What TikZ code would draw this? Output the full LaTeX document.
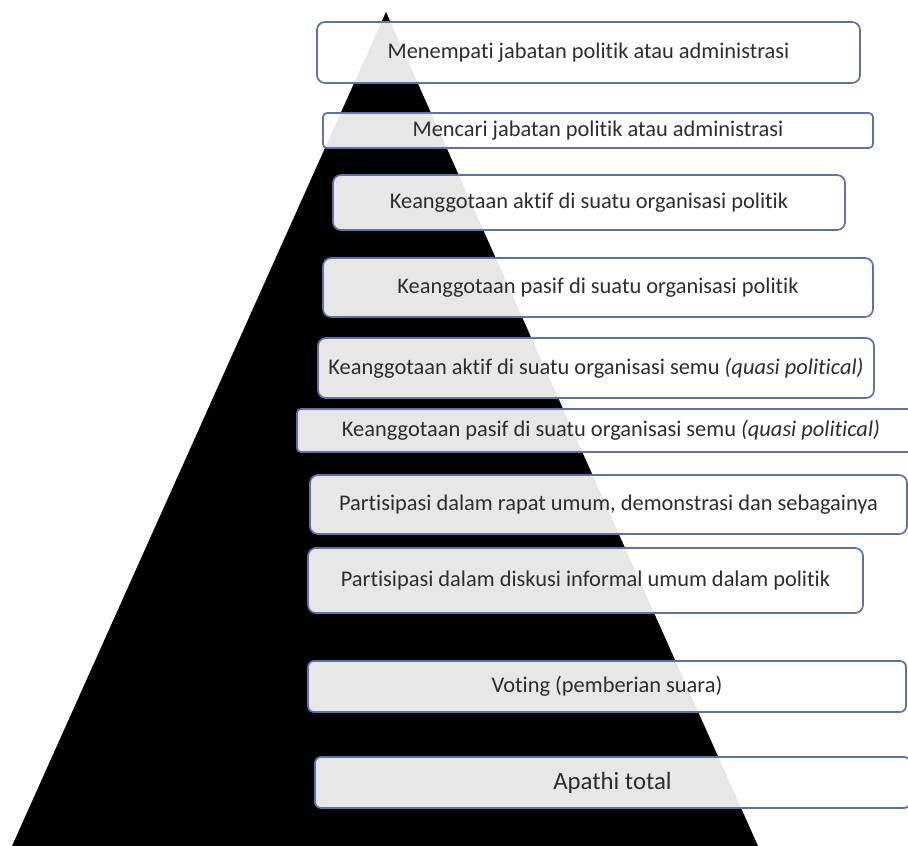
\documentclass[tikz,border=0pt]{standalone}
\usepackage{fontspec}
\setmainfont{Carlito}[Ligatures=NoCommon]
\definecolor{bordercol}{RGB}{98,112,170}
\definecolor{txtcol}{RGB}{45,45,45}
\begin{document}
\begin{tikzpicture}[x=1pt,y=-1pt,
  lvl/.style={draw=bordercol, line width=1.7pt, fill=white, fill opacity=0.905,
    text opacity=1, rounded corners=8pt, inner sep=0pt, text=txtcol,
    font=\fontsize{22.4}{26}\selectfont},
  lvlsmall/.style={lvl, rounded corners=4pt},
]
\useasboundingbox (0,0) rectangle (908,846);
\fill[white] (0,0) rectangle (908,846);
\fill[black] (386,12) -- (12,846) -- (758,846) -- cycle;

\node[lvl, minimum width=543pt, minimum height=61pt] (n1) at (588.5,52.5)
  {Menempati jabatan politik atau administrasi};
\node[lvlsmall, minimum width=550pt, minimum height=35pt] (n2) at (598,130.5)
  {Mencari jabatan politik atau administrasi};
\node[lvl, minimum width=512pt, minimum height=55pt] (n3) at (589,202.5)
  {Keanggotaan aktif di suatu organisasi politik};
\node[lvl, minimum width=550pt, minimum height=59pt] (n4) at (598,287.5)
  {Keanggotaan pasif di suatu organisasi politik};
\node[lvl, minimum width=556pt, minimum height=60pt] (n5) at (596,368)
  {Keanggotaan aktif di suatu organisasi semu \textit{(quasi political)}};
\node[lvlsmall, minimum width=628pt, minimum height=43pt] (n6) at (611,430.5)
  {Keanggotaan pasif di suatu organisasi semu \textit{(quasi political)}};
\node[lvl, minimum width=597pt, minimum height=59pt] (n7) at (608.5,504.5)
  {Partisipasi dalam rapat umum, demonstrasi dan sebagainya};
\node[lvl, minimum width=555pt, minimum height=65pt] (n8) at (585.5,580.5)
  {Partisipasi dalam diskusi informal umum dalam politik};
\node[lvl, rounded corners=6pt, minimum width=598pt, minimum height=51pt] (n9) at (607,686.5)
  {Voting (pemberian suara)};
\node[lvl, rounded corners=6pt, minimum width=595pt, minimum height=51pt,
  font=\fontsize{24.8}{28}\selectfont] (n10) at (612.5,782.5)
  {Apathi total};
\end{tikzpicture}
\end{document}
